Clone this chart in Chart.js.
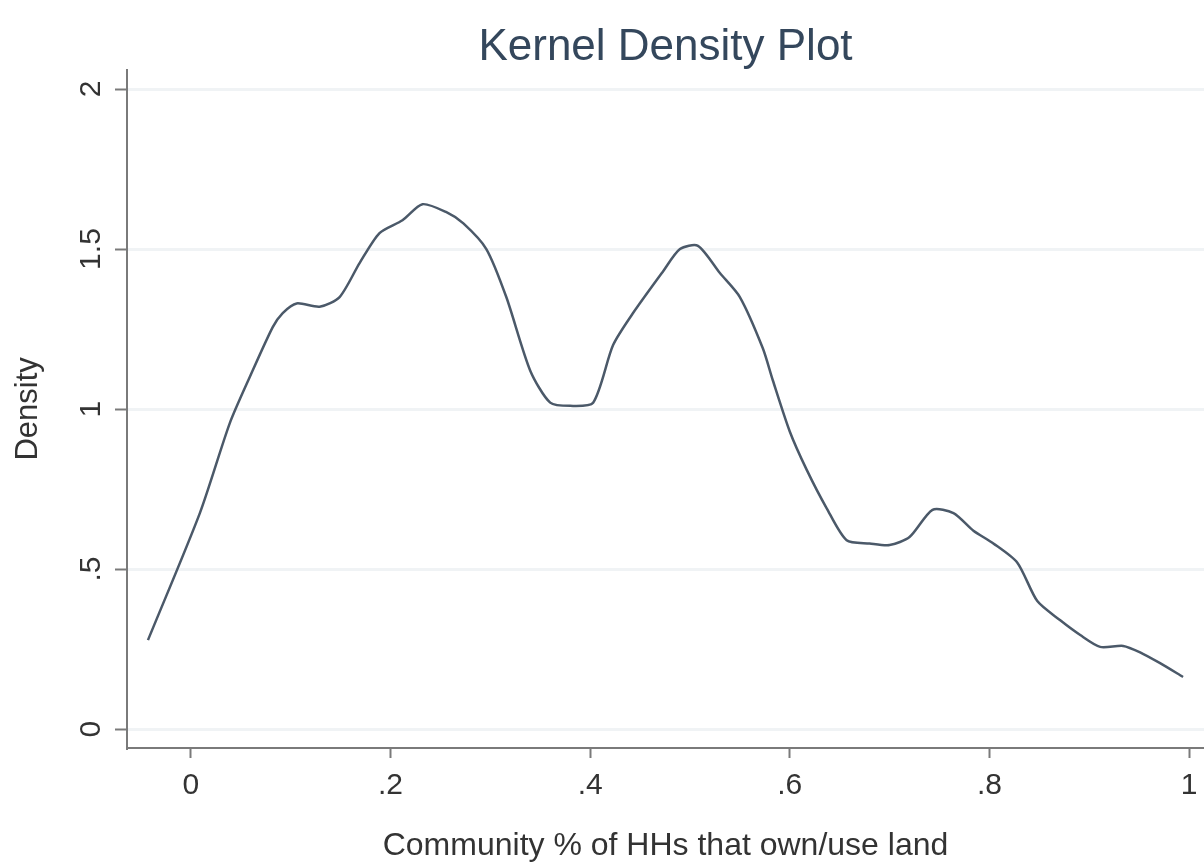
<!DOCTYPE html>
<html lang="en">
<head>
  <meta charset="UTF-8">
  <title>Kernel Density Plot</title>
  <script src="https://cdn.jsdelivr.net/npm/chart.js@4.4.0/dist/chart.umd.min.js"></script>
  <style>
    html, body { margin: 0; padding: 0; background: #fff; }
    #box { width: 1204px; height: 865px; }
  </style>
</head>
<body>
  <div id="box"><canvas id="kd"></canvas></div>

  <script>
    // kernel density estimate
    var densityX = [-0.043, 0.009, 0.039, 0.059, 0.082, 0.092, 0.106, 0.129, 0.149, 0.169,
                    0.189, 0.212, 0.232, 0.256, 0.273, 0.296, 0.316, 0.34, 0.36, 0.38,
                    0.403, 0.423, 0.443, 0.473, 0.49, 0.508, 0.53, 0.55, 0.573, 0.583,
                    0.6, 0.617, 0.637, 0.657, 0.68, 0.7, 0.72, 0.743, 0.764, 0.784,
                    0.804, 0.828, 0.848, 0.871, 0.891, 0.911, 0.934, 0.951, 0.971, 0.994];
    var densityY = [0.278, 0.675, 0.956, 1.10, 1.256, 1.30, 1.33, 1.32, 1.35, 1.456,
                    1.55, 1.59, 1.64, 1.615, 1.58, 1.50, 1.35, 1.12, 1.02, 1.01,
                    1.02, 1.20, 1.30, 1.43, 1.50, 1.51, 1.425, 1.35, 1.19, 1.09,
                    0.93, 0.81, 0.69, 0.59, 0.58, 0.575, 0.60, 0.685, 0.675, 0.62,
                    0.58, 0.52, 0.40, 0.34, 0.294, 0.257, 0.26, 0.24, 0.206, 0.163];

    var xTickValues = [0, 0.2, 0.4, 0.6, 0.8, 1];
    var xTickLabels = ['0', '.2', '.4', '.6', '.8', '1'];
    var yTickValues = [0, 0.5, 1, 1.5, 2];
    var yTickLabels = ['0', '.5', '1', '1.5', '2'];

    var points = [];
    for (var i = 0; i < densityX.length; i++) {
      points.push({ x: densityX[i], y: densityY[i] });
    }

    function setTicks(values) {
      return function (scale) {
        scale.ticks = values.map(function (v) { return { value: v }; });
      };
    }

    function labelFor(values, labels) {
      return function (value) {
        var k = values.indexOf(value);
        return k >= 0 ? labels[k] : '';
      };
    }

    var font = 'Liberation Sans, Arial, sans-serif';
    var ctx = document.getElementById('kd');

    var chart = new Chart(ctx, {
      type: 'line',
      data: {
        datasets: [{
          label: 'Density',
          data: points,
          borderColor: '#4b5969',
          borderWidth: 2.5,
          pointRadius: 0,
          tension: 0.25,
          fill: false
        }]
      },
      options: {
        responsive: true,
        maintainAspectRatio: false,
        animation: false,
        layout: { padding: 0 },
        plugins: {
          legend: { display: false },
          tooltip: { enabled: false },
          title: {
            display: true,
            fullSize: false,   // centre over the plot area, like Stata
            text: 'Kernel Density Plot',
            color: '#34475c',
            font: { family: font, size: 44, weight: 'normal' },
            padding: { top: 21, bottom: -4 }
          }
        },
        scales: {
          x: {
            type: 'linear',
            min: -0.064,
            max: 1.015,
            afterBuildTicks: setTicks(xTickValues),
            afterFit: function (s) {
              s.height = 117;
              s.paddingLeft = 0;
              s.paddingRight = 0;
            },
            border: { color: '#7a7a7a', width: 2 },
            grid: { drawOnChartArea: false, tickLength: 10, tickColor: '#7a7a7a', tickWidth: 2 },
            ticks: {
              color: '#333',
              padding: 10,
              maxRotation: 0,
              font: { family: font, size: 30 },
              callback: labelFor(xTickValues, xTickLabels)
            },
            title: {
              display: true,
              text: 'Community % of HHs that own/use land',
              color: '#333',
              font: { family: font, size: 32 },
              padding: { top: 0, bottom: 0 }
            }
          },
          y: {
            type: 'linear',
            min: -0.059,
            max: 2.06,
            afterBuildTicks: setTicks(yTickValues),
            afterFit: function (s) { s.width = 127; },
            border: { color: '#7a7a7a', width: 2 },
            grid: { color: 'rgba(225,232,236,0.5)', lineWidth: 3, tickLength: 12, tickColor: '#7a7a7a', tickWidth: 2 },
            ticks: {
              color: '#333',
              padding: 2,
              minRotation: 90,
              maxRotation: 90,
              crossAlign: 'center',
              font: { family: font, size: 30 },
              callback: labelFor(yTickValues, yTickLabels)
            },
            title: {
              display: true,
              text: 'Density',
              color: '#333',
              font: { family: font, size: 31 },
              padding: { top: 10, bottom: 0 }
            }
          }
        }
      }
    });
  </script>
</body>
</html>
